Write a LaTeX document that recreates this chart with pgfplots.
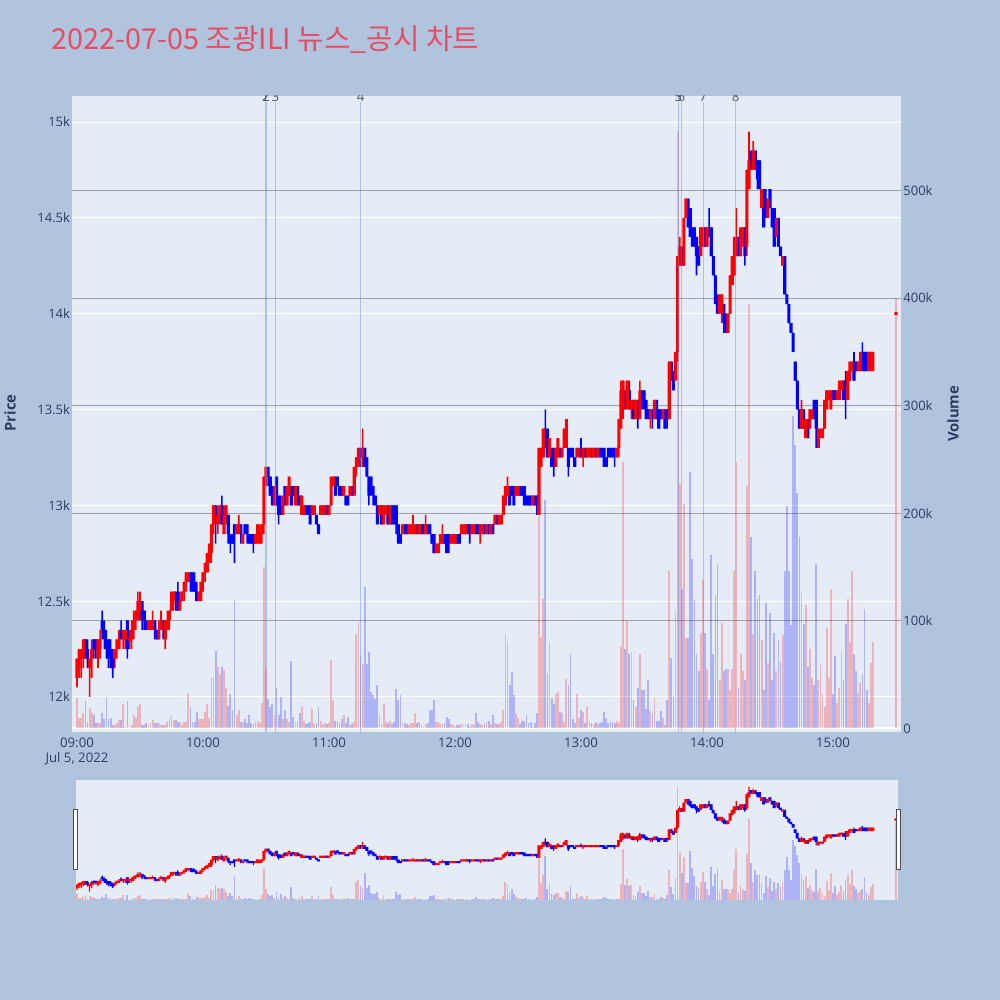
\documentclass[border=0pt]{standalone}
\usepackage{fontspec}
\setmainfont{Open Sans}
\newfontfamily\krfont{Noto Sans CJK KR}
\usepackage{pgfplots}
\pgfplotsset{compat=1.18}
\usepackage{pgfplotstable}
\definecolor{pagebg}{HTML}{B0C4DE}
\definecolor{plotbg}{HTML}{E5ECF6}
\definecolor{txt}{HTML}{2A3F5F}
\definecolor{titlec}{RGB}{232,76,100}
\definecolor{upc}{RGB}{255,0,0}
\definecolor{dnc}{RGB}{0,0,255}
\definecolor{vgrid}{RGB}{160,160,166}
\definecolor{newsc}{RGB}{100,140,240}
\definecolor{newst}{RGB}{75,85,105}

\pgfplotstableread{
t o h l c v
0 12100 12200 12050 12200 28
1 12150 12250 12100 12250 10
2 12200 12250 12100 12250 10
3 12200 12300 12150 12300 14
4 12300 12300 12200 12200 25
5 12250 12300 12150 12200 6
6 12150 12200 12000 12200 19
7 12200 12300 12100 12250 14
8 12300 12300 12200 12250 12
9 12300 12300 12200 12250 5
10 12200 12300 12150 12300 5
11 12250 12350 12200 12300 5
12 12400 12450 12300 12350 14
13 12350 12400 12250 12300 9
14 12300 12350 12200 12250 28
15 12300 12300 12150 12200 9
16 12250 12300 12150 12200 10
17 12200 12250 12100 12150 3
18 12200 12250 12150 12250 3
19 12250 12300 12200 12300 5
20 12250 12350 12250 12300 8
21 12350 12400 12300 12300 8
22 12300 12350 12250 12350 23
23 12300 12350 12250 12350 1
24 12400 12400 12200 12250 25
25 12300 12350 12250 12300 2
26 12300 12400 12250 12350 3
27 12350 12450 12300 12400 12
28 12400 12450 12350 12450 10
29 12400 12550 12400 12500 20
30 12450 12550 12400 12500 23
31 12500 12500 12350 12400 3
32 12450 12450 12350 12400 3
33 12400 12400 12350 12350 5
34 12350 12400 12350 12400 2
35 12350 12400 12350 12400 5
36 12350 12450 12350 12400 8
37 12400 12400 12300 12350 5
38 12350 12350 12300 12300 5
39 12300 12400 12300 12350 5
40 12350 12450 12350 12400 3
41 12400 12400 12300 12350 3
42 12300 12400 12250 12400 3
43 12350 12450 12350 12400 6
44 12400 12450 12350 12450 10
45 12450 12550 12450 12550 12
46 12500 12550 12450 12550 8
47 12550 12550 12450 12500 8
48 12550 12600 12450 12450 6
49 12450 12550 12450 12500 6
50 12500 12550 12500 12550 3
51 12550 12600 12500 12600 6
52 12600 12650 12550 12650 6
53 12600 12650 12600 12650 33
54 12650 12650 12550 12600 20
55 12650 12650 12550 12550 6
56 12600 12650 12550 12550 6
57 12550 12600 12500 12500 15
58 12500 12550 12500 12550 9
59 12500 12600 12500 12600 9
60 12600 12650 12550 12650 9
61 12650 12700 12600 12700 15
62 12650 12750 12650 12750 23
63 12700 12800 12700 12800 10
64 12750 12900 12700 12900 47
65 12900 13000 12850 13000 48
66 13000 13000 12800 12900 72
67 12900 13000 12850 12950 57
68 12950 13000 12900 13000 51
69 13000 13050 12900 12900 57
70 12850 13000 12850 12950 54
71 12950 13000 12900 13000 38
72 12950 12950 12800 12850 21
73 12850 12850 12750 12800 32
74 12850 12850 12800 12800 17
75 12900 12900 12700 12850 119
76 12850 12900 12850 12900 12
77 12850 12950 12850 12900 17
78 12900 12900 12800 12850 6
79 12800 12850 12800 12850 6
80 12900 12900 12850 12850 9
81 12900 12900 12800 12850 5
82 12850 12850 12800 12800 12
83 12850 12850 12800 12800 5
84 12850 12850 12750 12800 4
85 12800 12850 12800 12850 7
86 12850 12900 12800 12900 7
87 12800 12900 12800 12850 5
88 12850 12900 12800 12900 24
89 12900 13150 12850 13150 150
90 13150 13200 13100 13200 55
91 13200 13200 13100 13150 27
92 13150 13150 13050 13050 20
93 13100 13100 13000 13000 23
94 13000 13100 13000 13100 12
95 13150 13150 13000 13000 38
96 13050 13050 12900 12950 12
97 13000 13050 12950 12950 29
98 12950 13050 12950 13050 9
99 13100 13100 13000 13000 17
100 13000 13100 13000 13100 9
101 13050 13150 13050 13150 6
102 13100 13100 13000 13000 63
103 13100 13100 13050 13050 11
104 13000 13100 13000 13100 6
105 13100 13100 13000 13000 6
106 13050 13050 13000 13000 14
107 12950 13050 12950 13050 20
108 12950 13000 12950 13000 7
109 13000 13000 12950 12950 4
110 13000 13000 12950 12950 5
111 13000 13000 12900 12900 6
112 12950 13000 12950 13000 18
113 12950 13000 12950 13000 4
114 12950 12950 12900 12900 5
115 12900 12900 12850 12850 20
116 12950 13000 12950 13000 7
117 12950 13000 12950 13000 4
118 12950 13000 12950 13000 5
119 13000 13000 12950 12950 4
120 12950 13000 12950 13000 5
121 13000 13150 13000 13150 64
122 13100 13150 13100 13150 26
123 13150 13150 13050 13050 7
124 13150 13150 13100 13100 7
125 13100 13100 13050 13050 5
126 13100 13100 13050 13050 9
127 13050 13100 13050 13100 12
128 13050 13050 13000 13000 5
129 13050 13050 13000 13000 11
130 13050 13100 13050 13100 3
131 13100 13100 13050 13050 4
132 13050 13200 13050 13200 6
133 13200 13250 13150 13250 88
134 13200 13300 13200 13300 99
135 13300 13300 13200 13250 68
136 13250 13400 13200 13300 60
137 13300 13300 13200 13200 131
138 13250 13250 13150 13150 60
139 13150 13150 13000 13050 71
140 13150 13150 13050 13100 34
141 13100 13100 13000 13050 31
142 13050 13050 13000 13000 27
143 13000 13000 12900 12900 40
144 12950 13000 12950 13000 12
145 13000 13000 12900 12900 3
146 12900 13000 12900 13000 23
147 12950 13000 12950 13000 6
148 13000 13000 12900 12900 5
149 12900 13000 12900 13000 7
150 13000 13000 12900 12900 4
151 13000 13000 12900 12900 6
152 13000 13000 12850 12900 37
153 12900 12900 12800 12800 26
154 12850 12850 12800 12800 31
155 12850 12900 12850 12900 6
156 12900 12900 12850 12850 5
157 12900 12900 12850 12850 4
158 12850 12900 12850 12900 3
159 12850 12900 12850 12900 5
160 12850 12950 12850 12900 5
161 12850 12900 12850 12900 14
162 12900 12900 12850 12850 5
163 12850 12900 12850 12900 6
164 12900 12900 12850 12850 3
165 12900 12900 12850 12850 1
166 12850 12950 12850 12900 4
167 12900 12900 12850 12850 5
168 12900 12900 12850 12850 17
169 12850 12850 12800 12800 17
170 12850 12850 12750 12750 26
171 12750 12800 12750 12800 6
172 12750 12800 12750 12800 6
173 12800 12850 12800 12850 4
174 12800 12900 12800 12850 4
175 12850 12850 12800 12800 5
176 12850 12850 12750 12750 11
177 12850 12850 12750 12800 9
178 12800 12850 12800 12850 4
179 12800 12850 12800 12850 3
180 12800 12850 12800 12850 1
181 12850 12850 12800 12800 3
182 12850 12850 12800 12800 3
183 12850 12900 12850 12900 4
184 12850 12900 12850 12900 3
185 12850 12900 12850 12900 3
186 12900 12900 12850 12850 4
187 12900 12900 12800 12850 1
188 12850 12900 12850 12900 4
189 12850 12900 12850 12900 3
190 12900 12900 12850 12850 14
191 12900 12900 12850 12850 6
192 12850 12900 12800 12900 4
193 12850 12900 12850 12900 3
194 12900 12900 12850 12850 5
195 12850 12900 12850 12900 6
196 12900 12900 12850 12850 7
197 12850 12900 12850 12900 4
198 12900 12900 12850 12850 12
199 12900 12950 12900 12950 5
200 12950 12950 12900 12900 4
201 12900 12950 12900 12950 4
202 12900 12950 12900 12950 6
203 12950 13050 12950 13050 17
204 13000 13100 13000 13100 88
205 13050 13150 13050 13100 79
206 13100 13100 13000 13000 40
207 13100 13100 13050 13050 52
208 13100 13100 13000 13000 31
209 13050 13100 13050 13100 14
210 13050 13100 13050 13100 10
211 13100 13100 13050 13050 4
212 13100 13100 13050 13050 7
213 13100 13100 13000 13000 7
214 13050 13050 13000 13000 12
215 13050 13050 13000 13000 5
216 13050 13050 13000 13000 6
217 13000 13050 13000 13050 1
218 13050 13050 13000 13000 5
219 13050 13050 12950 13000 14
220 12950 13300 12950 13300 197
221 13200 13300 13200 13300 85
222 13250 13400 13250 13400 120
223 13400 13500 13300 13300 212
224 13400 13400 13250 13250 51
225 13250 13350 13250 13350 80
226 13300 13300 13200 13200 28
227 13300 13300 13150 13200 23
228 13200 13300 13200 13300 32
229 13250 13350 13250 13350 34
230 13300 13300 13250 13250 15
231 13250 13300 13250 13300 14
232 13300 13400 13300 13400 6
233 13300 13450 13300 13450 46
234 13300 13300 13150 13200 40
235 13300 13300 13250 13250 69
236 13300 13300 13250 13250 9
237 13250 13250 13200 13200 5
238 13250 13300 13250 13300 32
239 13250 13300 13250 13300 10
240 13300 13350 13250 13250 17
241 13250 13300 13200 13300 15
242 13300 13300 13250 13250 5
243 13250 13300 13250 13300 20
244 13250 13300 13250 13300 7
245 13300 13300 13250 13250 5
246 13250 13300 13250 13300 4
247 13300 13300 13250 13250 6
248 13250 13300 13250 13300 4
249 13300 13300 13250 13250 5
250 13300 13300 13250 13250 6
251 13300 13300 13200 13200 15
252 13250 13250 13200 13200 10
253 13300 13300 13250 13250 5
254 13300 13300 13250 13250 7
255 13300 13300 13250 13250 6
256 13300 13300 13200 13250 5
257 13250 13300 13250 13300 7
258 13300 13450 13250 13450 5
259 13400 13650 13400 13600 76
260 13500 13650 13450 13650 248
261 13600 13600 13500 13500 74
262 13500 13650 13500 13650 100
263 13600 13650 13500 13500 69
264 13500 13550 13450 13550 71
265 13550 13550 13450 13450 26
266 13450 13550 13450 13550 20
267 13550 13550 13400 13450 38
268 13450 13650 13450 13600 69
269 13600 13600 13500 13550 36
270 13600 13600 13500 13500 36
271 13550 13550 13450 13450 18
272 13500 13500 13450 13450 45
273 13450 13500 13400 13500 16
274 13500 13500 13400 13450 14
275 13450 13550 13450 13550 28
276 13550 13550 13450 13450 7
277 13500 13500 13400 13400 7
278 13500 13500 13450 13450 16
279 13450 13500 13450 13500 10
280 13500 13500 13400 13400 3
281 13500 13500 13400 13450 26
282 13450 13750 13450 13750 146
283 13750 13750 13650 13650 65
284 13700 13700 13600 13600 30
285 13650 13800 13650 13800 109
286 13800 14300 13750 14300 555
287 14250 14400 14250 14350 227
288 14350 14350 14250 14250 130
289 14250 14500 14250 14500 209
290 14500 14600 14500 14600 84
291 14600 14600 14450 14450 84
292 14550 14550 14400 14400 238
293 14450 14450 14350 14350 157
294 14450 14450 14350 14350 119
295 14400 14400 14200 14300 69
296 14350 14350 14250 14250 53
297 14300 14450 14300 14450 89
298 14350 14450 14350 14450 138
299 14450 14450 14350 14350 89
300 14350 14450 14350 14450 55
301 14450 14550 14400 14400 26
302 14450 14450 14300 14300 161
303 14300 14300 14200 14200 69
304 14200 14200 14050 14050 124
305 14050 14100 14000 14000 153
306 14000 14100 14000 14100 45
307 14000 14100 13950 14100 98
308 14050 14050 13900 13950 53
309 14000 14000 13900 13900 55
310 13900 14000 13900 14000 55
311 14000 14200 14000 14200 36
312 14150 14300 14150 14300 55
313 14200 14400 14200 14400 146
314 14300 14550 14300 14400 248
315 14400 14400 14300 14300 38
316 14300 14450 14300 14450 69
317 14350 14450 14350 14450 53
318 14450 14450 14250 14300 45
319 14350 14750 14300 14750 225
320 14650 14950 14650 14800 394
321 14850 14850 14750 14750 178
322 14750 14900 14750 14850 88
323 14850 14850 14750 14750 146
324 14800 14800 14650 14700 120
325 14800 14800 14650 14650 124
326 14550 14650 14550 14650 82
327 14650 14650 14450 14450 36
328 14600 14650 14500 14500 117
329 14500 14600 14500 14600 61
330 14650 14650 14550 14550 107
331 14550 14550 14450 14450 45
332 14550 14550 14350 14350 89
333 14400 14500 14400 14500 53
334 14500 14500 14350 14350 82
335 14350 14350 14300 14300 62
336 14250 14300 14250 14300 87
337 14300 14300 14100 14100 146
338 14100 14100 14050 14050 207
339 14050 14050 13950 13950 146
340 13950 13950 13900 13900 96
341 13900 13900 13800 13800 290
342 13750 13750 13650 13650 263
343 13650 13650 13500 13500 219
344 13500 13500 13400 13400 178
345 13400 13550 13400 13500 126
346 13500 13500 13400 13400 97
347 13350 13450 13350 13450 115
348 13450 13450 13350 13350 57
349 13400 13500 13400 13500 74
350 13450 13500 13450 13500 47
351 13550 13550 13450 13450 40
352 13550 13550 13300 13400 153
353 13300 13400 13300 13400 45
354 13350 13400 13350 13400 59
355 13350 13400 13350 13400 32
356 13400 13550 13400 13550 20
357 13500 13600 13500 13600 93
358 13550 13600 13550 13600 47
359 13500 13600 13500 13600 130
360 13600 13600 13550 13550 32
361 13600 13600 13550 13550 67
362 13550 13600 13550 13600 24
363 13550 13650 13550 13650 38
364 13600 13650 13600 13650 71
365 13650 13650 13550 13550 45
366 13650 13700 13450 13550 97
367 13550 13700 13550 13700 120
368 13650 13750 13650 13750 80
369 13700 13750 13700 13750 146
370 13750 13800 13650 13650 69
371 13750 13750 13700 13700 53
372 13700 13750 13700 13750 32
373 13700 13800 13700 13800 42
374 13800 13850 13700 13700 51
375 13800 13800 13700 13700 111
376 13800 13800 13700 13700 36
377 13700 13800 13700 13800 24
378 13700 13800 13700 13800 61
379 13700 13800 13700 13800 80
390 14000 14000 14000 14000 400
}\data

\pgfplotsset{
  every axis/.append style={scaled ticks=false, clip bounding box=upper bound},
  mainpos/.style={at={(36pt,134pt)}, anchor=south west, scale only axis,
    width=414.5pt, height=318pt, xmin=-2.381, xmax=392.381},
  slidepos/.style={at={(38pt,50pt)}, anchor=south west, scale only axis,
    width=411pt, height=60pt, xmin=-0.476, xmax=391.0},
  noframe/.style={axis line style={draw=none}, major tick style={draw=none}},
  volbar/.style={ycomb, mark=none, draw opacity=0.24, line width=0.9pt},
}
\tikzset{newslab/.style={anchor=base, inner sep=0pt, text=newst, font=\fontsize{6.6}{7.8}\selectfont, yshift=-2.6pt}}

\begin{document}
\begin{tikzpicture}
\fill[pagebg] (0pt,0pt) rectangle (500pt,500pt);

\node[anchor=base west, inner sep=0pt, text=titlec, font=\krfont\fontsize{14.4}{17}\selectfont] at (25.5pt,475pt) {2022-07-05 조광ILI 뉴스\_공시 차트};

% ---- main frame (price axis, left)
\begin{axis}[mainpos, noframe,
  ymin=11817.4, ymax=15135.7,
  axis background/.style={fill=plotbg},
  ytick={12000,12500,13000,13500,14000,14500,15000},
  yticklabels={12k,12.5k,13k,13.5k,14k,14.5k,15k},
  ymajorgrids, major grid style={white, line width=0.5pt},
  xtick={0,60,120,180,240,300,360},
  xticklabels={{09:00\\Jul 5, 2022},10:00,11:00,12:00,13:00,14:00,15:00},
  xticklabel style={align=center, font=\fontsize{6.6}{7.8}\selectfont, text=txt, inner sep=0pt, yshift=-2.6pt},
  yticklabel style={font=\fontsize{6.5}{7.8}\selectfont, text=txt, inner sep=0pt, xshift=-0.8pt},
]
\end{axis}

% ---- volume axis (right)
\begin{axis}[mainpos, noframe,
  ymin=-3.35, ymax=587.8,
  xtick=\empty,
  ytick={100,200,300,400,500},
  yticklabels={100k,200k,300k,400k,500k},
  yticklabel pos=right,
  extra y ticks={0}, extra y tick labels={0},
  extra y tick style={grid=major, major grid style={white, line width=1pt}},
  ymajorgrids, major grid style={vgrid, line width=0.5pt},
  yticklabel style={font=\fontsize{6.5}{7.8}\selectfont, text=txt, inner sep=0pt, xshift=1pt},
]
\addplot[volbar, draw=upc]
  table[x=t, y expr={\thisrow{c}<\thisrow{o} ? 0 : \thisrow{v}}] {\data};
\addplot[volbar, draw=dnc]
  table[x=t, y expr={\thisrow{c}<\thisrow{o} ? \thisrow{v} : 0}] {\data};
\end{axis}

% ---- candle wicks
\begin{axis}[mainpos, hide axis, ymin=11817.4, ymax=15135.7, ybar stacked, bar width=0.8pt]
\addplot[draw=none, fill=none] table[x=t, y=l] {\data};
\addplot[draw=none, fill=upc] table[x=t, y expr={\thisrow{c}<\thisrow{o} ? 0 : \thisrow{h}-\thisrow{l}}] {\data};
\addplot[draw=none, fill=dnc] table[x=t, y expr={\thisrow{c}<\thisrow{o} ? \thisrow{h}-\thisrow{l} : 0}] {\data};
\end{axis}
% ---- candle bodies
\begin{axis}[mainpos, hide axis, ymin=11817.4, ymax=15135.7, ybar stacked, bar width=1.55pt]
\addplot[draw=none, fill=none] table[x=t, y expr={min(\thisrow{o},\thisrow{c}) - (\thisrow{c}==\thisrow{o} ? 8 : 0)}] {\data};
\addplot[draw=none, fill=upc] table[x=t, y expr={\thisrow{c}<\thisrow{o} ? 0 : max(\thisrow{c}-\thisrow{o},16)}] {\data};
\addplot[draw=none, fill=dnc] table[x=t, y expr={\thisrow{c}<\thisrow{o} ? \thisrow{o}-\thisrow{c} : 0}] {\data};
\end{axis}

% ---- news lines
\begin{axis}[mainpos, hide axis, ymin=11817.4, ymax=15135.7]
\addplot[ycomb, mark=none, draw=newsc, draw opacity=0.45, line width=0.7pt] coordinates {
  (89.76,15102) (90.0,15102) (94.43,15102) (135.1,15102)
  (286.4,15102) (287.86,15102) (298.2,15102) (313.67,15102)};
\node[newslab] at (axis cs:89.76,15135.7) {1};
\node[newslab] at (axis cs:90.0,15135.7) {2};
\node[newslab] at (axis cs:94.43,15135.7) {3};
\node[newslab] at (axis cs:135.1,15135.7) {4};
\node[newslab] at (axis cs:286.4,15135.7) {5};
\node[newslab] at (axis cs:287.86,15135.7) {6};
\node[newslab] at (axis cs:298.2,15135.7) {7};
\node[newslab] at (axis cs:313.67,15135.7) {8};
\end{axis}

% ---- range slider
\begin{axis}[slidepos, noframe, xtick=\empty, ytick=\empty,
  ymin=0, ymax=583, axis background/.style={fill=plotbg}]
\addplot[volbar, draw=upc]
  table[x=t, y expr={\thisrow{c}<\thisrow{o} ? 0 : \thisrow{v}}] {\data};
\addplot[volbar, draw=dnc]
  table[x=t, y expr={\thisrow{c}<\thisrow{o} ? \thisrow{v} : 0}] {\data};
\end{axis}
\begin{axis}[slidepos, hide axis, ymin=11767, ymax=15138, ybar stacked, bar width=0.6pt]
\addplot[draw=none, fill=none] table[x=t, y=l] {\data};
\addplot[draw=none, fill=upc] table[x=t, y expr={\thisrow{c}<\thisrow{o} ? 0 : \thisrow{h}-\thisrow{l}}] {\data};
\addplot[draw=none, fill=dnc] table[x=t, y expr={\thisrow{c}<\thisrow{o} ? \thisrow{h}-\thisrow{l} : 0}] {\data};
\end{axis}
\begin{axis}[slidepos, hide axis, ymin=11767, ymax=15138, ybar stacked, bar width=1.5pt]
\addplot[draw=none, fill=none] table[x=t, y expr={min(\thisrow{o},\thisrow{c})}] {\data};
\addplot[draw=none, fill=upc] table[x=t, y expr={\thisrow{c}<\thisrow{o} ? 0 : max(\thisrow{c}-\thisrow{o},60)}] {\data};
\addplot[draw=none, fill=dnc] table[x=t, y expr={\thisrow{c}<\thisrow{o} ? max(\thisrow{o}-\thisrow{c},60) : 0}] {\data};
\end{axis}

% slider handles
\filldraw[fill=white, draw=black!70, line width=0.5pt] (36.65pt,65pt) rectangle (38.65pt,95pt);
\filldraw[fill=white, draw=black!70, line width=0.5pt] (448.15pt,65pt) rectangle (450.15pt,95pt);

% axis titles
\node[rotate=90, text=txt, font=\bfseries\fontsize{7.4}{9}\selectfont] at (5pt,293.5pt) {Price};
\node[rotate=90, text=txt, font=\bfseries\fontsize{7.4}{9}\selectfont] at (476.5pt,293pt) {Volume};

\pgfresetboundingbox
\useasboundingbox (0pt,0pt) rectangle (500pt,500pt);
\end{tikzpicture}
\end{document}
